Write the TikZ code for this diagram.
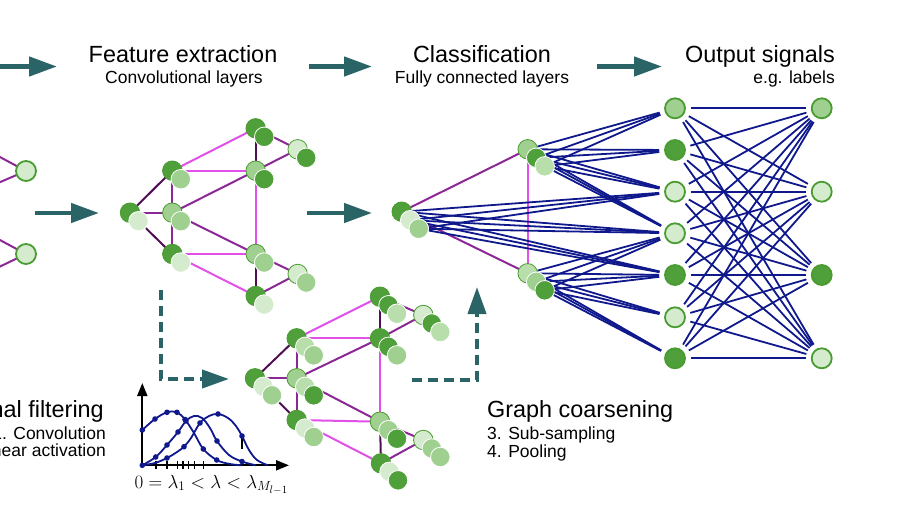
\documentclass[tikz,border=0pt]{standalone}
\usepackage{fontspec}
\setmainfont{Liberation Sans}
\usetikzlibrary{arrows.meta}
\pgfdeclarelayer{bg}
\pgfsetlayers{bg,main}
\definecolor{dk}{RGB}{79,159,58}
\definecolor{md}{RGB}{159,208,143}
\definecolor{lm}{RGB}{184,222,172}
\definecolor{lt}{RGB}{212,235,205}
\definecolor{gborder}{RGB}{74,156,50}
\definecolor{mag}{RGB}{225,80,232}
\definecolor{pur}{RGB}{140,40,150}
\definecolor{dpur}{RGB}{80,15,85}
\definecolor{navy}{RGB}{15,25,140}
\definecolor{teal2}{RGB}{42,100,102}
\newcommand{\gstack}[4]{%
  \foreach \c [count=\i from 0] in {#4}{%
    \ifnum\i=0
      \node[stk,fill=\c,draw=gborder] (#1-\i) at ({#2+8.5*\i},{#3+8.5*\i}) {};
    \else
      \node[stk,fill=\c] (#1-\i) at ({#2+8.5*\i},{#3+8.5*\i}) {};
    \fi
  }}
\begin{document}
\begin{tikzpicture}[x=1pt,y=-1pt,
  stk/.style={circle,minimum size=19.5pt,inner sep=0pt,draw=white,line width=0.8pt},
  outn/.style={circle,minimum size=20pt,inner sep=0pt,draw=gborder,line width=1.8pt},
  me/.style={draw=mag,line width=2pt},
  pe/.style={draw=pur,line width=2pt},
  dpe/.style={draw=dpur,line width=2pt},
  fc/.style={draw=navy,line width=1.8pt,shorten >=5pt},
  bigarrow/.style={draw=teal2,line width=4.5pt,-{Triangle[length=28pt,width=19pt]}},
  dasharrow/.style={draw=teal2,line width=4pt,dash pattern=on 10pt off 6pt,-{Triangle[length=27pt,width=18pt]}},
  hd/.style={inner sep=0pt,font=\fontsize{23.4}{28}\selectfont},
  sb/.style={inner sep=0pt,font=\fontsize{17.5}{21}\selectfont},
  curve/.style={draw=navy,line width=1.8pt},
  dot/.style={fill=navy}
]
\useasboundingbox (0,0) rectangle (918,517);
\clip (0,0) rectangle (918,517);

% ---------- headings ----------
\node[hd,anchor=base] (t1) at (183,62) {Feature extraction};
\node[sb,anchor=base] (t1s) at (184,83) {Convolutional layers};
\node[hd,anchor=base] (t2) at (482,62) {Classification};
\node[sb,anchor=base] (t2s) at (482,83) {Fully connected layers};
\node[hd,anchor=base east] (t3) at (835,62) {Output signals};
\node[sb,anchor=base east] (t3s) at (835,83) {e.g. labels};
\node[hd,anchor=base east] (t4) at (104,417) {Signal filtering};
\node[sb,anchor=base east] (t4a) at (106,439) {1. Convolution};
\node[sb,anchor=base east] (t4b) at (106,456) {2. Non-linear activation};
\node[hd,anchor=base west] (t5) at (487,417) {Graph coarsening};
\node[sb,anchor=base west] (t5a) at (487,439) {3. Sub-sampling};
\node[sb,anchor=base west] (t5b) at (487,457) {4. Pooling};

% ---------- arrows ----------
\coordinate (ar1s) at (-10,66.5); \coordinate (ar1e) at (57,66.5);
\coordinate (ar2s) at (309,66.5); \coordinate (ar2e) at (372,66.5);
\coordinate (ar3s) at (597,66.5); \coordinate (ar3e) at (662,66.5);
\coordinate (ar4s) at (35,213); \coordinate (ar4e) at (99,213);
\coordinate (ar5s) at (307,213); \coordinate (ar5e) at (372,213);
\draw[bigarrow] (ar1s) -- (ar1e);
\draw[bigarrow] (ar2s) -- (ar2e);
\draw[bigarrow] (ar3s) -- (ar3e);
\draw[bigarrow] (ar4s) -- (ar4e);
\draw[bigarrow] (ar5s) -- (ar5e);
\coordinate (da1s) at (161,290); \coordinate (da1c) at (161,379); \coordinate (da1e) at (229,379);
\coordinate (da2s) at (412,380); \coordinate (da2c) at (477,380); \coordinate (da2e) at (477,287);
\draw[dasharrow] (da1s) -- (da1c) -- (da1e);
\draw[dasharrow] (da2s) -- (da2c) -- (da2e);

% ---------- left (cut) graph ----------
\node[outn,fill=lt] (L1) at (26,171) {};
\node[outn,fill=lt] (L2) at (26,254) {};
\coordinate (l1a) at (-30,141); \coordinate (l1b) at (-30,195);
\coordinate (l2a) at (-30,224); \coordinate (l2b) at (-30,281);
\begin{pgfonlayer}{bg}
\draw[pe] (l1a) -- (L1.center);
\draw[pe] (l1b) -- (L1.center);
\draw[pe] (l2a) -- (L2.center);
\draw[pe] (l2b) -- (L2.center);
\end{pgfonlayer}

% ---------- feature extraction graph ----------
\gstack{Aa}{130}{212.7}{dk,lt}
\gstack{B1a}{172.3}{170.7}{dk,md}
\gstack{B2a}{172.3}{212.7}{md,md}
\gstack{B3a}{172.3}{254}{dk,lt}
\gstack{C1a}{255.7}{128.3}{dk,dk}
\gstack{C2a}{255.7}{170.7}{md,dk}
\gstack{C3a}{255.7}{254}{md,md}
\gstack{C4a}{255.7}{296}{dk,lt}
\gstack{D1a}{297.7}{149.3}{lt,dk}
\gstack{D2a}{297.7}{274}{lt,md}

% ---------- coarsened graph ----------
\gstack{Ab}{255}{378.3}{dk,lt,md}
\gstack{B1b}{296.7}{338.3}{dk,lm,md}
\gstack{B2b}{296.7}{378.3}{md,lm,dk}
\gstack{B3b}{296.7}{420}{dk,lt,md}
\gstack{C1b}{380}{296.7}{dk,dk,lm}
\gstack{C2b}{380}{338.3}{dk,dk,md}
\gstack{C3b}{380}{421.7}{md,md,dk}
\gstack{C4b}{381}{463.3}{dk,lt,dk}
\gstack{D1b}{423.3}{315}{lt,dk,lm}
\gstack{D2b}{423.3}{440}{lt,md,md}

\begin{pgfonlayer}{bg}
\foreach \p in {a,b}{
  \draw[dpe] (A\p-0.center) -- (B1\p-0.center);
  \draw[pe]  (A\p-0.center) -- (B2\p-0.center);
  \draw[dpe] (A\p-0.center) -- (B3\p-0.center);
  \draw[pe]  (B1\p-0.center) -- (B2\p-0.center);
  \draw[pe]  (B2\p-0.center) -- (B3\p-0.center);
  \draw[me]  (B1\p-0.center) -- (C1\p-0.center);
  \draw[me]  (B1\p-0.center) -- (C2\p-0.center);
  \draw[pe]  (B2\p-0.center) -- (C2\p-0.center);
  \draw[pe]  (B2\p-0.center) -- (C3\p-0.center);
  \draw[me]  (B3\p-0.center) -- (C3\p-0.center);
  \draw[me]  (B3\p-0.center) -- (C4\p-0.center);
  \draw[dpe] (C1\p-0.center) -- (C2\p-0.center);
  \draw[me]  (C2\p-0.center) -- (C3\p-0.center);
  \draw[dpe] (C3\p-0.center) -- (C4\p-0.center);
  \draw[pe]  (C1\p-0.center) -- (D1\p-0.center);
  \draw[pe]  (C2\p-0.center) -- (D1\p-0.center);
  \draw[pe]  (C3\p-0.center) -- (D2\p-0.center);
  \draw[pe]  (C4\p-0.center) -- (D2\p-0.center);
}
\end{pgfonlayer}

% ---------- classification ----------
\gstack{E}{401.7}{211.7}{dk,lt,md}
\gstack{F1}{527.7}{149.3}{md,dk,lm}
\gstack{F2}{527.7}{273.3}{lm,md,dk}

\foreach \n/\y/\c in {1/108.3/md,2/150/dk,3/191.7/lt,4/233.3/lt,5/275/dk,6/317.3/lt,7/358.3/dk}
  \node[outn,fill=\c] (O\n) at (675,\y) {};
\foreach \n/\y/\c in {1/108.3/md,2/191.7/lt,3/275/dk,4/358.3/lt}
  \node[outn,fill=\c] (P\n) at (821.7,\y) {};

\begin{pgfonlayer}{bg}
\draw[pe] (E-0.center) -- (F1-0.center);
\draw[pe] (E-0.center) -- (F2-0.center);
\draw[me] (F1-0.center) -- (F2-0.center);
\foreach \i in {0,1,2}{
  \foreach \t in {3,4,5} \draw[fc] (E-\i) -- (O\t);
  \foreach \t in {1,2,3,4} \draw[fc] (F1-\i) -- (O\t);
  \foreach \t in {4,5,6,7} \draw[fc] (F2-\i) -- (O\t);
}
\foreach \i in {1,...,7}
  \foreach \j in {1,...,4}
    \draw[fc,shorten <=5pt] (O\i) -- (P\j);
\end{pgfonlayer}

% ---------- spectral plot ----------
\draw[line width=2pt,-{Triangle[length=13pt,width=10pt]}] (142.3,466) -- (142.3,383);
\draw[line width=2pt,-{Triangle[length=13pt,width=10pt]}] (141.3,465.3) -- (289,465.3);
\foreach \x in {155.7,166.7,177.3,182.7,188.3,194.3,203.3}
  \draw[line width=1.6pt] (\x,461) -- (\x,469);
\draw[line width=1.6pt] (241.7,438) -- (241.7,449);
\draw[curve] plot[smooth,tension=0.6] coordinates {(142.3,430) (155,419) (167,412.3) (177,412.3) (185,419.5) (194,433) (203.3,449) (216.7,460) (230,464) (242,465.3)};
\draw[curve] plot[smooth,tension=0.6] coordinates {(142.3,465.3) (155.7,457) (167,445) (178,432) (186,421) (194,416) (202,418) (210,428) (217,441) (229,455) (242,461.5) (256,465.3)};
\draw[curve] plot[smooth,tension=0.6] coordinates {(142.3,465.3) (155,463) (167,458) (177,452) (184,446.7) (191,438) (200,423) (209,416) (218,414) (228,418) (236,426) (242,436) (249,450) (257,460) (268,465.3)};
\foreach \q in {(142.3,430),(155,419),(167,412.3),(177,412.3),(185,419.5),(203.3,449),(216.7,460),
  (142.3,465.3),(155.7,457),(167,445),(178,432),(186,421),(217,441),(242,461.5),
  (167,458),(184,446.7),(200,423),(218,414),(242,436)}
  \fill[dot] \q circle (2.8pt);
\node[anchor=base,inner sep=0pt,scale=1.1] (lam) at (211.5,488) {\fontsize{17.28}{21}\selectfont$0=\lambda_1<\lambda<\lambda_{M_{l-1}}$};
\end{tikzpicture}
\end{document}
